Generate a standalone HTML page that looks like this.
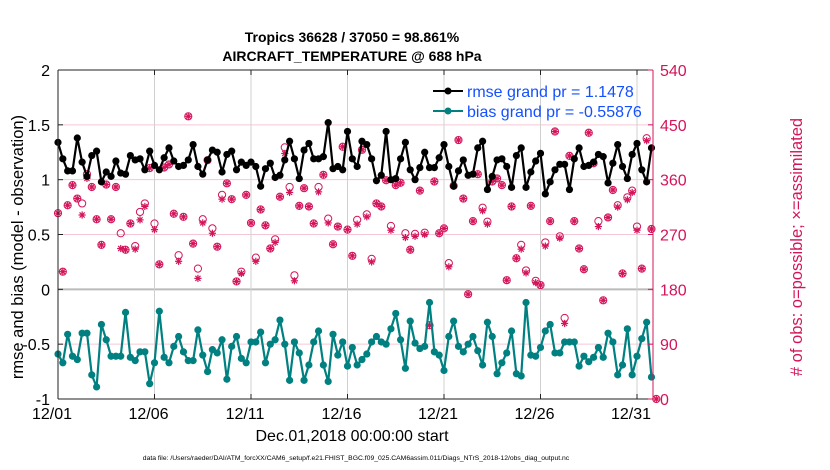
<!DOCTYPE html>
<html><head><meta charset="utf-8"><style>
body{margin:0;background:#fff;}
svg{display:block;font-family:"Liberation Sans",sans-serif;}
</style></head><body>
<svg id="chart" width="830" height="470" viewBox="0 0 830 470" xmlns="http://www.w3.org/2000/svg">
<rect width="830" height="470" fill="#fff"/>
<text x="352" y="42" font-size="14" font-weight="bold" text-anchor="middle">Tropics 36628 / 37050 = 98.861%</text>
<text x="352" y="61" font-size="14" font-weight="bold" text-anchor="middle">AIRCRAFT_TEMPERATURE @ 688 hPa</text>
<g id="grid"></g>
<g id="marks"></g>
<g id="axes"></g>
<g>
<line x1="433" y1="91" x2="463" y2="91" stroke="#000" stroke-width="2"/>
<circle cx="448" cy="91" r="3.5" fill="#000"/>
<text x="467" y="97" font-size="16" fill="#1450ff">rmse grand pr = 1.1478</text>
<line x1="433" y1="111" x2="463" y2="111" stroke="#008080" stroke-width="2"/>
<circle cx="448" cy="111" r="3.5" fill="#008080"/>
<text x="467" y="117" font-size="16" fill="#1450ff">bias grand pr = -0.55876</text>
</g>
<text transform="translate(23,247) rotate(-90)" font-size="16.5" text-anchor="middle">rmse and bias (model - observation)</text>
<text transform="translate(802,247) rotate(-90)" font-size="16.5" text-anchor="middle" fill="#d4145a"># of obs: o=possible; ×=assimilated</text>
<text x="352" y="441" font-size="16" text-anchor="middle">Dec.01,2018 00:00:00 start</text>
<text x="356" y="460" font-size="6.8" text-anchor="middle">data file: /Users/raeder/DAI/ATM_forcXX/CAM6_setup/f.e21.FHIST_BGC.f09_025.CAM6assim.011/Diags_NTrS_2018-12/obs_diag_output.nc</text>
</svg>
<script>
const rmse=[1.34,1.19,1.08,1.08,1.38,1.16,1.03,1.22,1.26,0.98,1.07,1.03,1.17,1.06,1.05,1.22,1.18,1.19,1.09,1.26,1.13,1.09,1.20,1.29,1.17,1.12,1.13,1.18,1.32,1.12,1.05,
1.18,1.27,1.25,1.07,1.23,1.26,1.09,1.16,1.13,1.16,1.12,0.94,1.10,1.15,1.02,1.04,1.18,1.35,1.19,1.01,1.27,1.33,1.19,1.19,1.21,1.52,1.10,1.12,1.09,1.44,
1.19,1.12,1.35,1.32,1.19,0.99,1.04,1.44,1.00,1.01,1.19,1.34,1.09,1.00,1.11,1.25,1.11,1.11,1.20,1.32,1.12,0.94,1.08,1.18,1.04,1.05,1.29,1.35,0.91,1.03,
1.18,1.19,1.12,0.93,1.22,1.29,0.93,1.07,1.17,1.24,0.87,0.98,1.09,1.14,1.14,0.91,1.19,1.29,1.12,1.13,1.16,
1.23,1.21,0.97,1.15,1.32,1.12,1.01,1.23,1.33,1.09,0.98,1.29];
const bias=[-0.59,-0.67,-0.41,-0.61,-0.64,-0.40,-0.40,-0.78,-0.89,-0.32,-0.46,-0.61,-0.61,-0.61,-0.21,-0.62,-0.65,-0.57,-0.57,-0.86,-0.67,-0.20,-0.62,-0.67,-0.52,-0.43,-0.57,-0.65,-0.65,-0.37,-0.60,
-0.75,-0.55,-0.58,-0.46,-0.82,-0.52,-0.43,-0.63,-0.67,-0.48,-0.48,-0.39,-0.67,-0.50,-0.46,-0.28,-0.50,-0.83,-0.48,-0.58,-0.83,-0.69,-0.48,-0.38,-0.69,-0.84,-0.41,-0.60,-0.48,-0.70,
-0.53,-0.69,-0.64,-0.59,-0.48,-0.43,-0.48,-0.50,-0.36,-0.22,-0.46,-0.72,-0.29,-0.49,-0.54,-0.52,-0.12,-0.57,-0.60,-0.74,-0.43,-0.29,-0.52,-0.57,-0.50,-0.43,-0.56,-0.69,-0.30,-0.43,
-0.77,-0.67,-0.58,-0.38,-0.77,-0.79,-0.12,-0.60,-0.61,-0.53,-0.38,-0.32,-0.58,-0.58,-0.48,-0.48,-0.48,-0.70,-0.61,-0.66,-0.62,-0.53,-0.62,-0.40,-0.48,-0.78,-0.69,-0.36,-0.78,-0.61,
-0.45,-0.30,-0.80];
const possible=[305,209,318,351,329,321,369,348,295,253,352,295,348,272,245,288,251,307,321,379,288,221,380,385,304,236,299,464,255,214,295,
392,280,250,335,354,328,193,209,335,289,232,311,285,247,262,332,413,348,203,317,346,316,288,348,368,296,254,283,414,278,
235,294,409,303,230,321,316,359,284,351,355,272,245,271,342,273,121,357,272,280,223,350,425,329,172,292,369,314,291,357,
362,351,195,316,231,253,211,317,194,187,257,292,439,267,133,399,292,247,213,437,387,292,162,298,343,318,206,331,342,283,214,428,279,0];
const assimilated=[305,209,318,351,329,302,362,348,295,253,352,295,348,247,245,288,246,294,316,379,278,221,380,385,304,226,299,464,255,198,289,
392,272,250,328,354,328,193,206,335,289,226,311,285,247,257,332,403,339,194,317,346,316,288,340,368,289,254,283,414,278,
235,287,409,299,225,321,316,359,277,351,355,265,245,267,342,270,121,357,272,280,217,350,425,329,172,292,369,309,287,357,
362,351,195,316,231,246,207,317,191,187,251,292,439,264,124,399,292,247,213,437,387,283,162,298,343,315,206,327,339,277,214,424,279,0];
const xTickLabels=["12/01","12/06","12/11","12/16","12/21","12/26","12/31"];
const xTickDays=[0,5,10,15,20,25,30];
const yTickLabels=["-1","-0.5","0","0.5","1","1.5","2"];
const yTickVals=[-1,-0.5,0,0.5,1,1.5,2];
const y2TickVals=[0,90,180,270,360,450,540];

const NS="http://www.w3.org/2000/svg";
const L=58,R=653,T=70,B=399;
const dayPx=19.3;
function xDay(d){return L+d*dayPx;}
function xIdx(i){return L+i*dayPx/4;}
function yL(v){return B-(v+1)/3*(B-T);}
function yR(c){return B-c/540*(B-T);}
function mk(tag,attrs,parent){const e=document.createElementNS(NS,tag);for(const k in attrs)e.setAttribute(k,attrs[k]);parent.appendChild(e);return e;}
const grid=document.getElementById('grid'),marks=document.getElementById('marks'),axes=document.getElementById('axes');
const RED="#d4145a";
mk('rect',{x:L,y:T,width:R-L,height:B-T,fill:'#fff'},grid);
y2TickVals.forEach(c=>{if(c>0&&c<540){const g=mk('line',{x1:L,x2:R,y1:yR(c),y2:yR(c),stroke:c===180?'#bbb':'#f5c6d6','stroke-width':c===180?2:1},grid);

}});
xTickDays.forEach(d=>{if(d>0){const g=mk('line',{x1:xDay(d),x2:xDay(d),y1:T,y2:B,stroke:'#d0d0d0','stroke-width':1},grid);

}});
possible.forEach((c,i)=>{const x=xIdx(i),y=yR(c);
const o=mk('circle',{cx:x,cy:y,r:3.6,fill:'none',stroke:RED,'stroke-width':1},marks);

});
assimilated.forEach((c,i)=>{const x=xIdx(i),y=yR(c);
const g=mk('g',{stroke:RED,'stroke-width':1.2},marks);


for(let a=0;a<4;a++){const ang=a*Math.PI/4,dx=Math.cos(ang)*3.6,dy=Math.sin(ang)*3.6;mk('line',{x1:x-dx,y1:y-dy,x2:x+dx,y2:y+dy},g);}});
function series(vals,color,name){
const pts=vals.map((v,i)=>xIdx(i).toFixed(1)+','+yL(v).toFixed(1)).join(' ');
const pl=mk('polyline',{points:pts,fill:'none',stroke:color,'stroke-width':2.2,'stroke-linejoin':'round'},marks);


vals.forEach((v,i)=>{const c=mk('circle',{cx:xIdx(i),cy:yL(v),r:3.6,fill:color},marks);

});}
series(rmse,'#000','rmse');
series(bias,'#008080','bias');
mk('line',{x1:L,y1:T,x2:R,y2:T,stroke:'#222','stroke-width':1},axes);
mk('line',{x1:L,y1:B,x2:R,y2:B,stroke:'#222','stroke-width':1},axes);
mk('line',{x1:L,y1:T,x2:L,y2:B,stroke:'#222','stroke-width':1},axes);
mk('line',{x1:R,y1:T,x2:R,y2:B,stroke:RED,'stroke-width':1},axes);
xTickDays.forEach((d,k)=>{const x=xDay(d);
mk('line',{x1:x,x2:x,y1:B,y2:B-5,stroke:'#222'},axes);mk('line',{x1:x,x2:x,y1:T,y2:T+5,stroke:'#222'},axes);
const t=mk('text',{x:x-6,y:419,'font-size':16,'text-anchor':'middle'},axes);t.textContent=xTickLabels[k];

});
yTickVals.forEach((v,k)=>{const y=yL(v);
mk('line',{x1:L,x2:L+5,y1:y,y2:y,stroke:'#222'},axes);
const t=mk('text',{x:50,y:y+6,'font-size':16,'text-anchor':'end'},axes);t.textContent=yTickLabels[k];

});
y2TickVals.forEach(c=>{const y=yR(c);
mk('line',{x1:R-5,x2:R,y1:y,y2:y,stroke:RED},axes);
const t=mk('text',{x:660,y:y+6,'font-size':16,fill:RED},axes);t.textContent=String(c);

});
</script>
</body></html>
